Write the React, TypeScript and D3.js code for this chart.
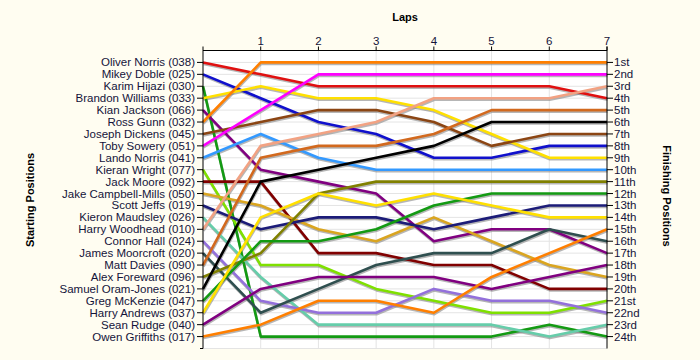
import React from "react";
import * as d3 from "d3";

const drivers = [
  "Oliver Norris (038)", "Mikey Doble (025)", "Karim Hijazi (030)", "Brandon Williams (033)",
  "Kian Jackson (066)", "Ross Gunn (032)", "Joseph Dickens (045)", "Toby Sowery (051)",
  "Lando Norris (041)", "Kieran Wright (077)", "Jack Moore (092)", "Jake Campbell-Mills (050)",
  "Scott Jeffs (019)", "Kieron Maudsley (026)", "Harry Woodhead (010)", "Connor Hall (024)",
  "James Moorcroft (020)", "Matt Davies (090)", "Alex Foreward (096)", "Samuel Oram-Jones (021)",
  "Greg McKenzie (047)", "Harry Andrews (037)", "Sean Rudge (040)", "Owen Griffiths (017)",
];

const driverColors = [
  "#e01010", "#1010cc", "#139a13", "#ffe000", "#800080", "#ff7f00", "#8b4513", "#ff00ff",
  "#3399ff", "#7fe000", "#800000", "#daa520", "#1c1c78", "#66cdaa", "#f2a283", "#9370db",
  "#2f4f4f", "#d2691e", "#808000", "#000000", "#139a13", "#ffe000", "#800080", "#ff7f00",
];

// position at lap 0 (start) through lap 7
const positionsByLap = [
  [1, 2, 3, 3, 3, 3, 3, 4],
  [2, 4, 6, 7, 9, 9, 8, 8],
  [3, 24, 24, 24, 24, 24, 23, 24],
  [4, 3, 4, 4, 5, 7, 9, 9],
  [5, 10, 11, 12, 16, 15, 15, 17],
  [6, 1, 1, 1, 1, 1, 1, 1],
  [7, 6, 5, 5, 6, 8, 7, 7],
  [8, 5, 2, 2, 2, 2, 2, 2],
  [9, 7, 9, 10, 10, 10, 10, 10],
  [10, 18, 18, 20, 21, 22, 22, 21],
  [11, 11, 17, 17, 18, 18, 20, 20],
  [12, 13, 15, 16, 14, 16, 18, 19],
  [13, 15, 14, 14, 15, 14, 13, 13],
  [14, 19, 23, 23, 23, 23, 24, 23],
  [15, 8, 7, 6, 4, 4, 4, 3],
  [16, 21, 22, 22, 20, 21, 21, 22],
  [17, 22, 20, 18, 17, 17, 15, 16],
  [18, 9, 8, 8, 7, 5, 5, 5],
  [19, 17, 12, 11, 11, 11, 11, 11],
  [20, 11, 10, 9, 8, 6, 6, 6],
  [21, 16, 16, 15, 13, 12, 12, 12],
  [22, 14, 12, 13, 12, 13, 14, 14],
  [23, 20, 19, 19, 19, 20, 19, 18],
  [24, 23, 21, 21, 22, 19, 17, 15],
];

const laps = [0, 1, 2, 3, 4, 5, 6, 7];
const lapTickLabels = ["1", "2", "3", "4", "5", "6", "7"];
const finishLabels = [
  "1st", "2nd", "3rd", "4th", "5th", "6th", "7th", "8th", "9th", "10th", "11th", "12th",
  "13th", "14th", "15th", "16th", "17th", "18th", "19th", "20th", "21st", "22nd", "23rd", "24th",
];

const W = 700, H = 360;
const font = "'Liberation Sans', Arial, sans-serif";
const textColor = "#14143a";

export default function App() {
  const x = d3.scaleLinear().domain([0, 7]).range([203, 607]);
  const y = d3.scaleLinear().domain([0, 25]).range([50.5, 348.5]);
  const line = d3.line<number>().x((_, i) => x(laps[i])).y((d) => y(d));
  const positions = d3.range(1, drivers.length + 1);
  const top = y(0), bottom = y(25);

  return (
    <svg width={W} height={H} style={{ position: "absolute", left: 0, top: 0 }}>
      <rect x={0} y={0} width={W} height={H} fill="#fffdf1" />
      <rect x={x(0)} y={top} width={x(7) - x(0)} height={bottom - top} fill="#ffffff" />
      {positions.concat([25]).map((p) => (
        <line key={"gy" + p} x1={x(0)} x2={x(7)} y1={y(p)} y2={y(p)} stroke="#e4e4e4" strokeWidth={1} />
      ))}
      {laps.slice(1, 7).map((l) => (
        <line key={"gx" + l} x1={x(l)} x2={x(l)} y1={top} y2={bottom} stroke="#e4e4e4" strokeWidth={1} />
      ))}
      {positionsByLap.map((ps, i) => (
        <path key={"s" + i} d={line(ps) || ""} fill="none" stroke="#7a7a7a" strokeOpacity={0.55}
          strokeWidth={2.6} transform="translate(0.5,1.5)" strokeLinejoin="round" />
      ))}
      {positionsByLap.map((ps, i) => (
        <path key={"l" + i} d={line(ps) || ""} fill="none" stroke={driverColors[i]}
          strokeWidth={2.6} strokeLinejoin="round" />
      ))}
      {/* top axis */}
      <line x1={x(0)} x2={x(7)} y1={top} y2={top} stroke="#000" strokeWidth={1} />
      {laps.slice(1).map((l, i) => (
        <g key={"tx" + l}>
          <line x1={x(l)} x2={x(l)} y1={top - 4} y2={top} stroke="#000" />
          <text x={x(l)} y={top - 6} textAnchor="middle" fontFamily={font} fontSize={11.5} fill={textColor}>
            {lapTickLabels[i]}
          </text>
        </g>
      ))}
      {/* left axis */}
      <line x1={x(0)} x2={x(0)} y1={top - 4} y2={bottom} stroke="#000" />
      <line x1={x(0) - 3} x2={x(0)} y1={bottom} y2={bottom} stroke="#000" />
      {positions.map((p, i) => (
        <g key={"ly" + p}>
          <line x1={x(0) - 6} x2={x(0)} y1={y(p)} y2={y(p)} stroke="#000" />
          <line x1={x(0) - 5} x2={x(0) - 1} y1={y(p)} y2={y(p)} stroke={driverColors[i]} strokeWidth={2} opacity={0} />
          <text x={x(0) - 8} y={y(p)} dy="0.35em" textAnchor="end" fontFamily={font} fontSize={11.5} fill={textColor}>
            {drivers[i]}
          </text>
        </g>
      ))}
      {/* right axis */}
      <line x1={x(7)} x2={x(7)} y1={top - 4} y2={bottom} stroke="#000" />
      {positions.map((p, i) => (
        <g key={"ry" + p}>
          <line x1={x(7)} x2={x(7) + 6} y1={y(p)} y2={y(p)} stroke="#000" />
          <text x={x(7) + 7} y={y(p)} dy="0.35em" textAnchor="start" fontFamily={font} fontSize={11.5} fill={textColor}>
            {finishLabels[i]}
          </text>
        </g>
      ))}
      {/* titles */}
      <text x={(x(0) + x(7)) / 2} y={21} textAnchor="middle" fontFamily={font} fontSize={11} fontWeight="bold" fill="#000">
        Laps
      </text>
      <text transform={`translate(34,200) rotate(-90)`} textAnchor="middle" fontFamily={font} fontSize={11} fontWeight="bold" fill="#000">
        Starting Positions
      </text>
      <text transform={`translate(663,196) rotate(90)`} textAnchor="middle" fontFamily={font} fontSize={11} fontWeight="bold" fill="#000">
        Finishing Positions
      </text>
    </svg>
  );
}
